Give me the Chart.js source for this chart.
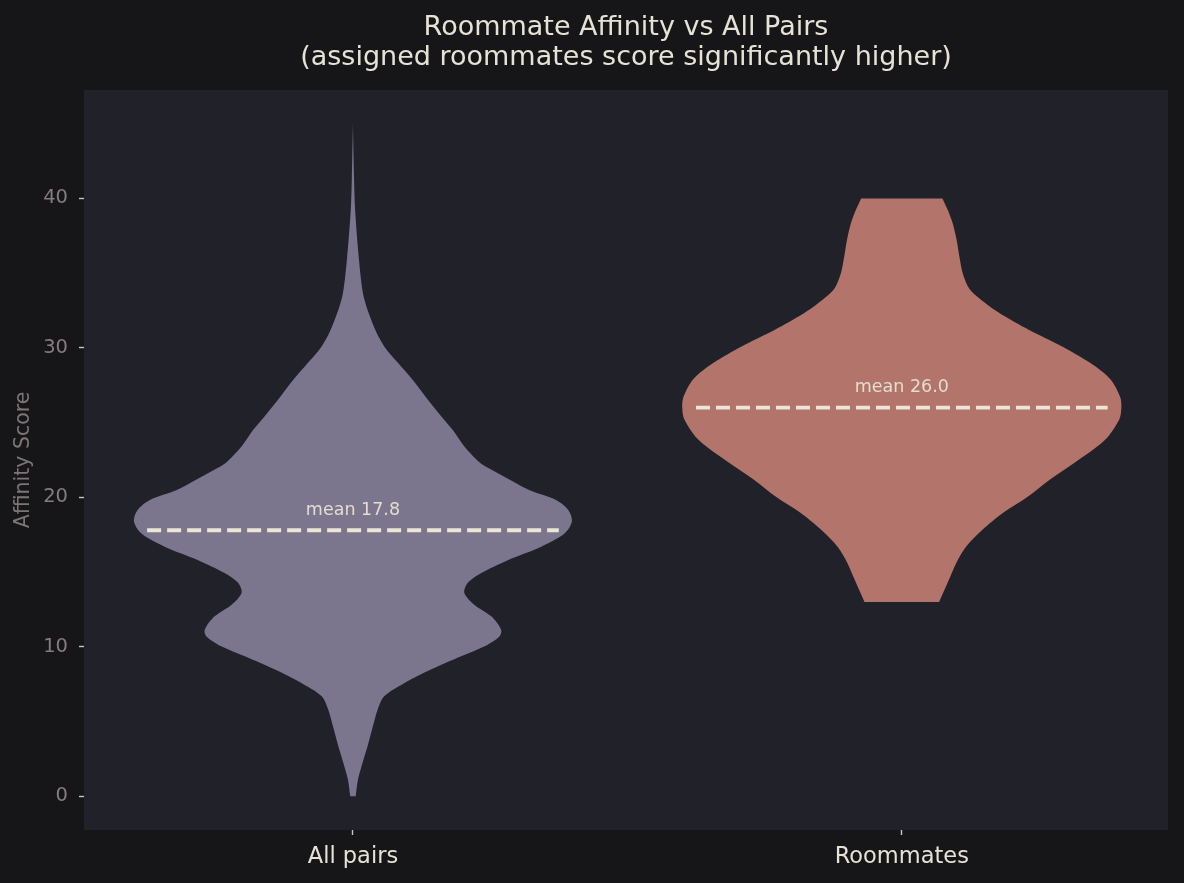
<!DOCTYPE html>
<html>
<head>
<meta charset="utf-8">
<title>Roommate Affinity vs All Pairs</title>
<script src="https://cdn.jsdelivr.net/npm/chart.js@4.4.1/dist/chart.umd.min.js"></script>
<style>
  html, body { margin: 0; padding: 0; background: #161618; }
  #wrap { width: 1184px; height: 883px; }
</style>
</head>
<body>
<div id="wrap"><canvas id="violinChart"></canvas></div>
<script>
// Categories, ticks and means
const categories = ['All pairs', 'Roommates'];
const yTicks = [0, 10, 20, 30, 40];
const means = [17.8, 26.0];
const titleLines = ['Roommate Affinity vs All Pairs', '(assigned roommates score significantly higher)'];

// Violin profiles: score level and half width of the density (x axis units)
const allPairsLevels = [0, 1.1, 2.3, 3.4, 4.5, 5.8, 6.7, 7.59, 8.48, 9.37, 10.04, 10.7, 11.15, 12.04, 12.82, 13.6,
    14.27, 14.94, 15.8, 16.7, 17.6, 18.4, 19.17, 19.83, 20.5, 21.1, 21.8, 22.3, 23.4, 24.5, 25.6, 26.7,
    27.85, 29.0, 30.05, 31.1, 32.5, 33.7, 35.9, 39.2, 41.4, 45];
const allPairsHalfWidth = [0.005, 0.009, 0.018, 0.027, 0.035, 0.045, 0.057, 0.094, 0.142, 0.197, 0.240, 0.267, 0.270, 0.252, 0.221, 0.203,
    0.209, 0.234, 0.282, 0.343, 0.386, 0.399, 0.392, 0.370, 0.321, 0.290, 0.255, 0.232, 0.203, 0.182, 0.157, 0.133,
    0.109, 0.082, 0.058, 0.042, 0.027, 0.018, 0.011, 0.004, 0.002, 0];

const roommatesLevels = [13.0, 14.5, 15.6, 16.7, 17.8, 19.0, 20.0, 21.2, 22.3, 23.8, 25.2, 26.0, 26.7, 27.9,
    29.0, 30.1, 31.2, 32.3, 33.0, 33.9, 35.0, 36.1, 37.2, 38.3, 39.2, 40.0];
const roommatesHalfWidth = [0.068, 0.086, 0.099, 0.117, 0.146, 0.186, 0.228, 0.270, 0.314, 0.369, 0.396, 0.400, 0.398, 0.380,
    0.343, 0.292, 0.232, 0.179, 0.152, 0.124, 0.111, 0.105, 0.100, 0.093, 0.084, 0.074];

const violinColors = ['#7b768e', '#b3756b'];
const FONT = 'DejaVu Sans';

// Build a closed outline: up the right side, down the left side.
// End points are doubled so the spline keeps sharp corners at flat ends.
function violinOutline(center, levels, halfWidth) {
    const right = levels.map((y, i) => ({ x: center + halfWidth[i], y: y }));
    const left = levels.map((y, i) => ({ x: center - halfWidth[i], y: y })).reverse();
    const side = pts => [pts[0]].concat(pts, [pts[pts.length - 1]]);
    return side(right).concat(side(left));
}

// Plot area background
const plotBackground = {
    id: 'plotBackground',
    beforeDraw(chart) {
        const { ctx, chartArea } = chart;
        ctx.save();
        ctx.fillStyle = '#202129';
        ctx.fillRect(chartArea.left, chartArea.top, chartArea.right - chartArea.left, chartArea.bottom - chartArea.top);
        ctx.restore();
    }
};

// Two line title centred over the plot area
const plotTitle = {
    id: 'plotTitle',
    afterDraw(chart) {
        const { ctx, chartArea } = chart;
        const cx = (chartArea.left + chartArea.right) / 2;
        ctx.save();
        ctx.font = '27px "' + FONT + '"';
        ctx.fillStyle = '#e6e2d6';
        ctx.textAlign = 'center';
        ctx.textBaseline = 'middle';
        titleLines.forEach((line, i) => ctx.fillText(line, cx, 28 + i * 30));
        ctx.restore();
    }
};

// "mean xx.x" labels above the dashed lines
const meanLabels = {
    id: 'meanLabels',
    afterDatasetsDraw(chart) {
        const { ctx, scales } = chart;
        ctx.save();
        ctx.font = '17.5px "' + FONT + '"';
        ctx.fillStyle = '#e2ddcf';
        ctx.textAlign = 'center';
        ctx.textBaseline = 'middle';
        means.forEach((m, i) => {
            ctx.fillText('mean ' + m.toFixed(1), scales.x.getPixelForValue(i), scales.y.getPixelForValue(m + 1.32));
        });
        ctx.restore();
    }
};

function initViolinChart() {
    const canvas = document.getElementById('violinChart');
    if (!canvas) {
        console.warn('Canvas not found');
        return null;
    }

    Chart.defaults.font.family = FONT;

    const datasets = [];
    // dashed mean lines (drawn on top)
    means.forEach((m, i) => {
        datasets.push({
            data: [{ x: i - 0.375, y: m }, { x: i + 0.375, y: m }],
            borderColor: '#ebe6d6',
            borderWidth: 3.8,
            borderDash: [14, 6],
            pointRadius: 0,
            fill: false,
            order: 0
        });
    });
    // violins
    [[allPairsLevels, allPairsHalfWidth], [roommatesLevels, roommatesHalfWidth]].forEach((p, i) => {
        datasets.push({
            data: violinOutline(i, p[0], p[1]),
            backgroundColor: violinColors[i],
            borderColor: violinColors[i],
            borderWidth: 0,
            pointRadius: 0,
            tension: 0.3,
            fill: 'shape',
            order: 1
        });
    });

    const tickGrid = {
        display: true,
        drawOnChartArea: false,
        drawTicks: true,
        tickLength: 5,
        tickColor: '#cbc6bd',
        tickWidth: 1.4
    };

    return new Chart(canvas.getContext('2d'), {
        type: 'line',
        data: { datasets: datasets },
        options: {
            responsive: true,
            maintainAspectRatio: false,
            animation: false,
            events: [],
            layout: { padding: { left: 0, right: 16, top: 90, bottom: 0 } },
            plugins: {
                legend: { display: false },
                tooltip: { enabled: false },
                title: { display: false }
            },
            scales: {
                x: {
                    type: 'linear',
                    min: -0.49,
                    max: 1.485,
                    afterBuildTicks: s => { s.ticks = categories.map((c, i) => ({ value: i })); },
                    afterFit: s => { s.height = 53; },
                    ticks: {
                        callback: v => categories[v],
                        color: '#e6e2d6',
                        font: { size: 22.5 },
                        padding: 9,
                        maxRotation: 0,
                        autoSkip: false
                    },
                    grid: tickGrid,
                    border: { display: false }
                },
                y: {
                    type: 'linear',
                    min: -2.25,
                    max: 47.25,
                    afterBuildTicks: s => { s.ticks = yTicks.map(v => ({ value: v })); },
                    afterFit: s => { s.width = 84; },
                    ticks: {
                        color: '#857c7c',
                        font: { size: 19.5 },
                        padding: 11
                    },
                    grid: tickGrid,
                    border: { display: false },
                    title: {
                        display: true,
                        text: 'Affinity Score',
                        color: '#7d7474',
                        font: { size: 20.5 },
                        padding: { top: 11, bottom: 0 }
                    }
                }
            }
        },
        plugins: [plotBackground, meanLabels, plotTitle]
    });
}

document.addEventListener('DOMContentLoaded', function() {
    try {
        initViolinChart();
    } catch (error) {
        console.error('Error initializing violin chart:', error);
    }
});
</script>
</body>
</html>
